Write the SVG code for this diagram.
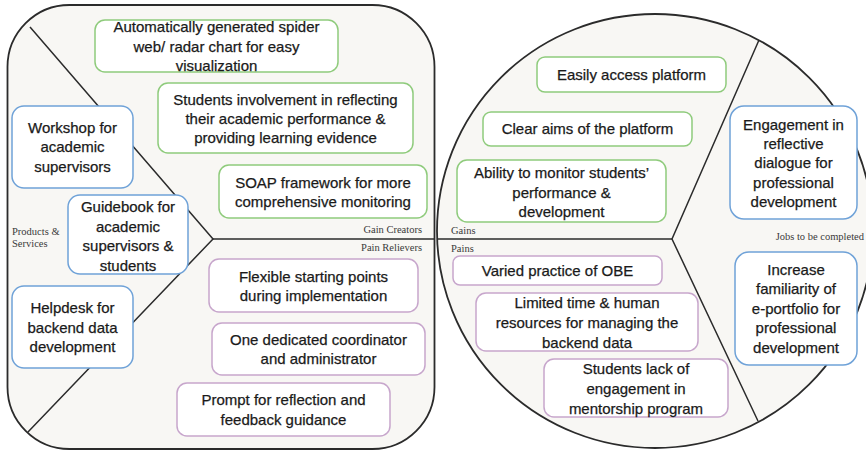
<svg xmlns="http://www.w3.org/2000/svg" width="866" height="456" viewBox="0 0 866 456">
  <style>
    .canvas { fill: #f8f7f4; stroke: #2b2b2b; stroke-width: 1.8; }
    .div { fill: none; stroke: #2b2b2b; stroke-width: 1.5; }
    .box { fill: #ffffff; stroke-width: 1.5; }
    .gain { stroke: #8fcb7c; }
    .prod { stroke: #6fa2d8; }
    .pain { stroke: #c7a6cc; }
    .t { font-family: "Liberation Sans", Arial, sans-serif; font-size: 15px; fill: #1a1a1a; stroke: #1a1a1a; stroke-width: 0.25; text-anchor: middle; }
    .lbl { font-family: "Liberation Serif", "Times New Roman", serif; font-size: 10.5px; fill: #3a3a3a; }
  </style>

  <rect width="866" height="456" fill="#ffffff"/>

  <!-- Value map: rounded square -->
  <g id="value-map">
    <rect class="canvas" x="7.5" y="5" width="427" height="444" rx="62" ry="62"/>
  </g>

  <!-- Customer profile: circle -->
  <g id="customer-profile">
    <ellipse class="canvas" cx="655" cy="231" rx="218" ry="217"/>
  </g>

  <!-- Section dividers -->
  <g id="connectors">
    <path class="div" d="M30,27 L213,239 L28,432"/>
    <path class="div" d="M213,239 L434,239"/>
    <path class="div" d="M437,239 L672,239"/>
    <path class="div" d="M759,40 L672,239 L758,421"/>
  </g>

  <!-- Section labels -->
  <g id="labels">
    <text class="lbl" x="12" y="235">Products &amp;</text>
    <text class="lbl" x="12" y="247">Services</text>
    <text class="lbl" x="422" y="233" text-anchor="end">Gain Creators</text>
    <text class="lbl" x="422" y="251" text-anchor="end">Pain Relievers</text>
    <text class="lbl" x="451" y="234">Gains</text>
    <text class="lbl" x="451" y="252">Pains</text>
    <text class="lbl" x="864" y="240" text-anchor="end">Jobs to be completed</text>
  </g>

  <!-- Gain creators -->
  <g id="gc-radar">
    <rect class="box gain" x="95" y="20" width="243" height="52" rx="10"/>
    <text class="t" x="216.5" y="32">Automatically generated spider</text>
    <text class="t" x="216.5" y="52">web/ radar chart for easy</text>
    <text class="t" x="216.5" y="71">visualization</text>
  </g>
  <g id="gc-involvement">
    <rect class="box gain" x="158" y="83" width="255" height="70" rx="10"/>
    <text class="t" x="285.5" y="105">Students involvement in reflecting</text>
    <text class="t" x="285.5" y="124">their academic performance &amp;</text>
    <text class="t" x="285.5" y="143">providing learning evidence</text>
  </g>
  <g id="gc-soap">
    <rect class="box gain" x="219" y="165" width="208" height="53" rx="10"/>
    <text class="t" x="323" y="188">SOAP framework for more</text>
    <text class="t" x="323" y="207">comprehensive monitoring</text>
  </g>

  <!-- Products & services -->
  <g id="ps-workshop">
    <rect class="box prod" x="12" y="106" width="121" height="82" rx="12"/>
    <text class="t" x="72.5" y="133">Workshop for</text>
    <text class="t" x="72.5" y="152">academic</text>
    <text class="t" x="72.5" y="172">supervisors</text>
  </g>
  <g id="ps-guidebook">
    <rect class="box prod" x="68" y="195" width="120" height="79" rx="12"/>
    <text class="t" x="128" y="212">Guidebook for</text>
    <text class="t" x="128" y="232">academic</text>
    <text class="t" x="128" y="251">supervisors &amp;</text>
    <text class="t" x="128" y="271">students</text>
  </g>
  <g id="ps-helpdesk">
    <rect class="box prod" x="12" y="286" width="121" height="82" rx="12"/>
    <text class="t" x="72.5" y="313">Helpdesk for</text>
    <text class="t" x="72.5" y="333">backend data</text>
    <text class="t" x="72.5" y="352">development</text>
  </g>

  <!-- Pain relievers -->
  <g id="pr-flexible">
    <rect class="box pain" x="209" y="259" width="209" height="53" rx="10"/>
    <text class="t" x="313.5" y="282">Flexible starting points</text>
    <text class="t" x="313.5" y="301">during implementation</text>
  </g>
  <g id="pr-coordinator">
    <rect class="box pain" x="212" y="323" width="213" height="52" rx="10"/>
    <text class="t" x="318.5" y="345">One dedicated coordinator</text>
    <text class="t" x="318.5" y="364">and administrator</text>
  </g>
  <g id="pr-prompt">
    <rect class="box pain" x="177" y="383" width="213" height="53" rx="10"/>
    <text class="t" x="283.5" y="405">Prompt for reflection and</text>
    <text class="t" x="283.5" y="425">feedback guidance</text>
  </g>

  <!-- Gains -->
  <g id="g-access">
    <rect class="box gain" x="537" y="57" width="189" height="35" rx="8"/>
    <text class="t" x="631.5" y="80">Easily access platform</text>
  </g>
  <g id="g-aims">
    <rect class="box gain" x="483" y="112" width="209" height="34" rx="8"/>
    <text class="t" x="587.5" y="134">Clear aims of the platform</text>
  </g>
  <g id="g-monitor">
    <rect class="box gain" x="457" y="160" width="209" height="62" rx="10"/>
    <text class="t" x="561.5" y="178">Ability to monitor students’</text>
    <text class="t" x="561.5" y="198">performance &amp;</text>
    <text class="t" x="561.5" y="217">development</text>
  </g>

  <!-- Jobs to be completed -->
  <g id="j-engagement">
    <rect class="box prod" x="730" y="106" width="127" height="113" rx="14"/>
    <text class="t" x="793.5" y="130">Engagement in</text>
    <text class="t" x="793.5" y="149">reflective</text>
    <text class="t" x="793.5" y="168">dialogue for</text>
    <text class="t" x="793.5" y="188">professional</text>
    <text class="t" x="793.5" y="207">development</text>
  </g>
  <g id="j-familiarity">
    <rect class="box prod" x="735" y="252" width="122" height="113" rx="14"/>
    <text class="t" x="796" y="275">Increase</text>
    <text class="t" x="796" y="294">familiarity of</text>
    <text class="t" x="796" y="314">e-portfolio for</text>
    <text class="t" x="796" y="333">professional</text>
    <text class="t" x="796" y="353">development</text>
  </g>

  <!-- Pains -->
  <g id="p-obe">
    <rect class="box pain" x="453" y="256" width="209" height="29" rx="7"/>
    <text class="t" x="557.5" y="276">Varied practice of OBE</text>
  </g>
  <g id="p-limited">
    <rect class="box pain" x="476" y="293" width="222" height="58" rx="10"/>
    <text class="t" x="587" y="308">Limited time &amp; human</text>
    <text class="t" x="587" y="328">resources for managing the</text>
    <text class="t" x="587" y="348">backend data</text>
  </g>
  <g id="p-engagement">
    <rect class="box pain" x="544" y="359" width="184" height="58" rx="10"/>
    <text class="t" x="636" y="374">Students lack of</text>
    <text class="t" x="636" y="394">engagement in</text>
    <text class="t" x="636" y="414">mentorship program</text>
  </g>
</svg>
